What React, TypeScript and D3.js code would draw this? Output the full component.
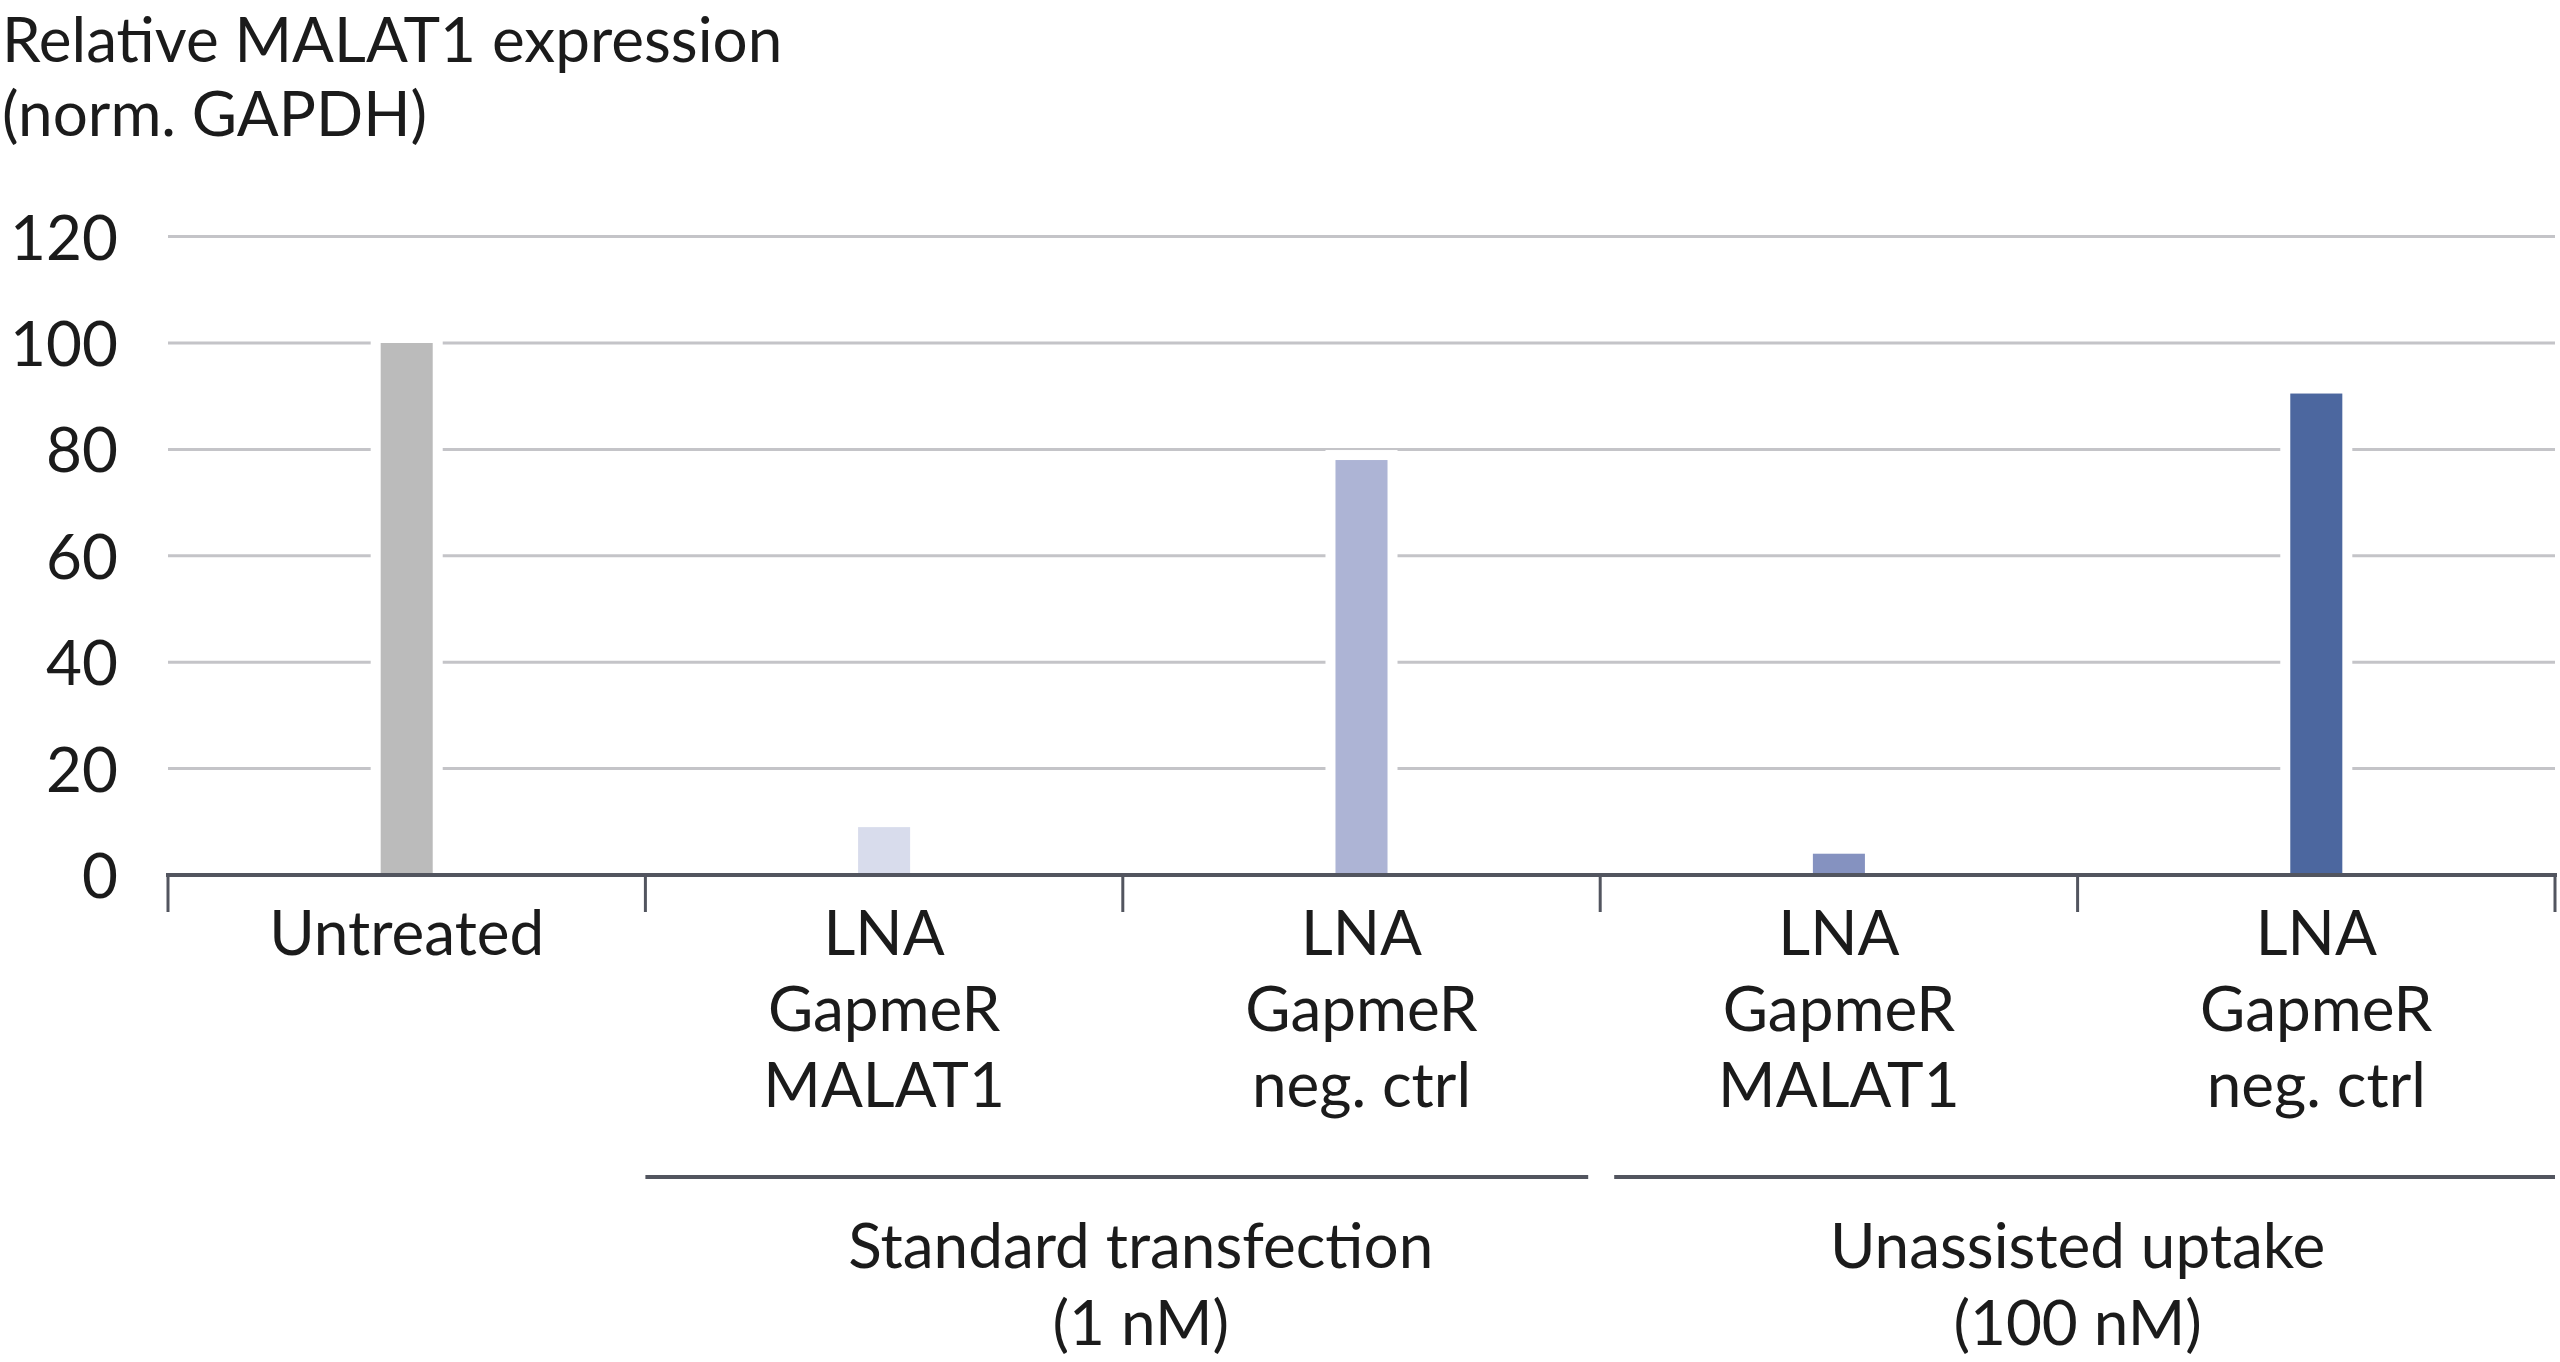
import React from "react";
import * as d3 from "d3";

const categories = ["Untreated", "LNA GapmeR MALAT1 (std)", "LNA GapmeR neg. ctrl (std)", "LNA GapmeR MALAT1 (unassisted)", "LNA GapmeR neg. ctrl (unassisted)"];
const categoryLines = [["Untreated"], ["LNA", "GapmeR", "MALAT1"], ["LNA", "GapmeR", "neg. ctrl"], ["LNA", "GapmeR", "MALAT1"], ["LNA", "GapmeR", "neg. ctrl"]];
const values = [100, 9, 78, 4, 90.5];
const barColors = ["#bbbbbb", "#d8dcec", "#adb4d5", "#8592c0", "#4c679f"];
const yTicks = [0, 20, 40, 60, 80, 100, 120];
const groups = [
  { lines: ["Standard transfection", "(1 nM)"], from: 1, to: 2 },
  { lines: ["Unassisted uptake", "(100 nM)"], from: 3, to: 4 },
];
const titleLines = ["Relative MALAT1 expression", "(norm. GAPDH)"];

const W = 2560;
const H = 1362;
const FONT = "Lato, 'Noto Sans', sans-serif";
const FS = 62;
const TEXT = "#1b1b1b";
const AXIS = "#52555f";
const GRID = "#c4c4c8";

export default function App() {
  const x = d3.scaleBand<string>().domain(categories).range([168, 2555]).padding(0);
  const y = d3.scaleLinear().domain([0, 120]).range([875, 236.6]);
  const bw = x.bandwidth() * 0.109;
  const edges = categories.map((c) => x(c) as number).concat([x.range()[1]]);

  return (
    <svg width={W} height={H} style={{ position: "absolute", left: 0, top: 0, background: "#fff" }} fontFamily={FONT}>
      <rect width={W} height={H} fill="#fff" />
      {titleLines.map((t, i) => (
        <text key={t} x={2} y={62 + i * 74} fontSize={FS} fill={TEXT}>{t}</text>
      ))}
      {yTicks.filter((t) => t > 0).map((t) => (
        <line key={"g" + t} x1={168} x2={2555} y1={y(t)} y2={y(t)} stroke={GRID} strokeWidth={3} />
      ))}
      {yTicks.map((t) => (
        <text key={"t" + t} x={118} y={y(t) + 23} fontSize={FS} textAnchor="end" fill={TEXT}>{t}</text>
      ))}
      {categories.map((c, i) => {
        const cx = (x(c) as number) + x.bandwidth() / 2;
        return (
          <rect key={c} x={cx - bw / 2} y={y(values[i])} width={bw} height={y(0) - y(values[i])}
            fill={barColors[i]} stroke="#fff" strokeWidth={20} paintOrder="stroke" />
        );
      })}
      <line x1={166} x2={2557} y1={y(0)} y2={y(0)} stroke={AXIS} strokeWidth={4} />
      {edges.map((e, i) => (
        <line key={"k" + i} x1={e} x2={e} y1={y(0)} y2={y(0) + 37} stroke={AXIS} strokeWidth={3} />
      ))}
      {categories.map((c, i) => {
        const cx = (x(c) as number) + x.bandwidth() / 2;
        return (
          <text key={"l" + c} fontSize={FS} textAnchor="middle" fill={TEXT}>
            {categoryLines[i].map((s, j) => (
              <tspan key={j} x={cx} y={955 + j * 76}>{s}</tspan>
            ))}
          </text>
        );
      })}
      {groups.map((g, gi) => {
        const x0 = x(categories[g.from]) as number;
        const x1 = (x(categories[g.to]) as number) + x.bandwidth();
        const lx0 = gi === 0 ? x0 : x0 + 14;
        const lx1 = gi === 0 ? x1 - 12 : x1;
        const cx = (x0 + x1) / 2 + (gi === 0 ? 18 : 0);
        return (
          <g key={"grp" + gi}>
            <line x1={lx0} x2={lx1} y1={1177} y2={1177} stroke={AXIS} strokeWidth={4} />
            <text fontSize={FS} textAnchor="middle" fill={TEXT}>
              {g.lines.map((s, j) => (
                <tspan key={j} x={cx} y={1268 + j * 77}>{s}</tspan>
              ))}
            </text>
          </g>
        );
      })}
    </svg>
  );
}
